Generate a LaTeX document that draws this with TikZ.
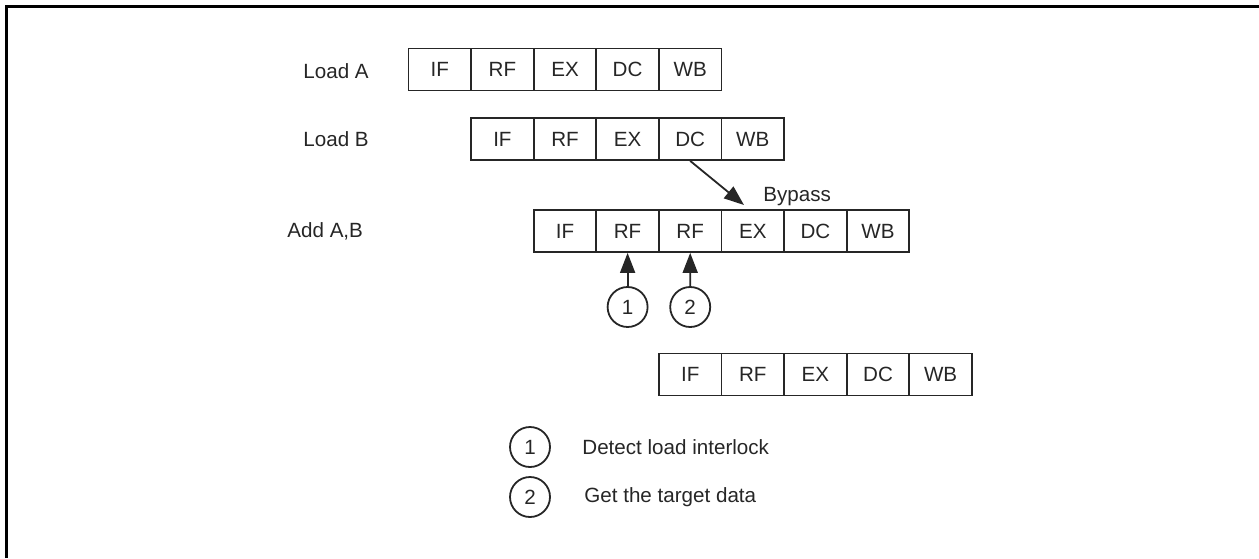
\documentclass[tikz,border=0pt]{standalone}
\usepackage{fontspec}
\setmainfont{Liberation Sans}
\usetikzlibrary{arrows.meta}
\begin{document}
\begin{tikzpicture}[x=0.5pt,y=-0.5pt,
  every node/.style={font=\fontsize{10.3}{12}\selectfont, text=black!85},
  cell/.style={draw=black!85, line width=0.9pt, minimum width=31.3pt, minimum height=21pt, inner sep=0pt},
  lbl/.style={anchor=west, inner sep=0pt},
  num/.style={draw=black!85, circle, line width=0.9pt, minimum size=20pt, inner sep=0pt},
  arr/.style={draw=black!85, line width=0.9pt, -{Triangle[length=10pt,width=7.5pt]}},
  frame/.style={line width=1.5pt}]
\useasboundingbox (0,0) rectangle (1259,558);
\draw[frame] (6,558) -- (6,6) -- (1259,6);
% row labels
\node[lbl] (la) at (303,71) {Load A};
\node[lbl] (lb) at (303,139) {Load B};
\node[lbl] (lc) at (287,231) {Add A,B};
% row 1
\foreach \t [count=\i] in {IF,RF,EX,DC,WB}
  \node[cell] (a\i) at ({439.8+62.6*(\i-1)},69.5) {\t};
% row 2
\foreach \t [count=\i] in {IF,RF,EX,DC,WB}
  \node[cell] (b\i) at ({502.4+62.6*(\i-1)},139) {\t};
% row 3
\foreach \t [count=\i] in {IF,RF,RF,EX,DC,WB}
  \node[cell] (c\i) at ({565.0+62.6*(\i-1)},231) {\t};
% row 4
\foreach \t [count=\i] in {IF,RF,EX,DC,WB}
  \node[cell] (d\i) at ({690.2+62.6*(\i-1)},374.5) {\t};
% bypass
\node[anchor=base west, inner sep=0pt] (bp) at (763,201.5) {Bypass};
\coordinate (bt) at (744,205);
\draw[arr] (b4.south) -- (bt);
% circles
\node[num] (n1) at (627.6,307) {1};
\node[num] (n2) at (690.2,307) {2};
\draw[arr] (n1.north) -- (c2.south);
\draw[arr] (n2.north) -- (c3.south);
% legend
\node[num] (m1) at (530,447) {1};
\node[num] (m2) at (530,497) {2};
\node[lbl] (t1) at (582,447) {Detect load interlock};
\node[lbl] (t2) at (584,497) {Get the target data};
\end{tikzpicture}
\end{document}
